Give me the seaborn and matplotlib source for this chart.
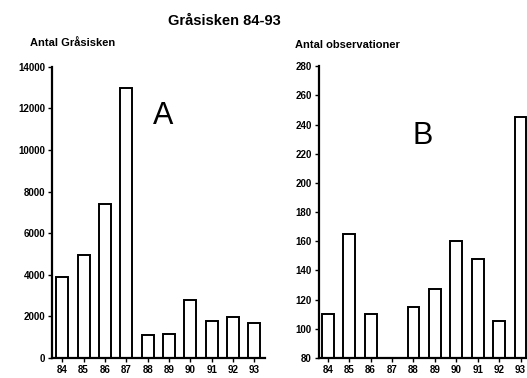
import numpy as np
import pandas as pd
import matplotlib
matplotlib.use("Agg")
import matplotlib.pyplot as plt
import seaborn as sns

# data
years = ["84", "85", "86", "87", "88", "89", "90", "91", "92", "93"]
antal_grasisken = [3900, 4950, 7400, 13000, 1100, 1150, 2800, 1800, 1980, 1670]
antal_obs = [110, 165, 110, np.nan, 115, 127, 160, 148, 105, 245]

sns.set_style("ticks")
plt.rcParams["font.family"] = ["Liberation Sans", "DejaVu Sans"]
plt.rcParams.update({"text.color": "black", "xtick.color": "black",
                     "ytick.color": "black", "axes.edgecolor": "black"})

fig = plt.figure(figsize=(5.27, 3.78), dpi=100)
axA = fig.add_axes([0.099, 0.053, 0.404, 0.770])
axB = fig.add_axes([0.605, 0.053, 0.395, 0.772])

dfA = pd.DataFrame({"year": years, "value": antal_grasisken})
dfB = pd.DataFrame({"year": years, "value": antal_obs})

sns.barplot(data=dfA, x="year", y="value", order=years, color="white",
            edgecolor="black", linewidth=1.4, width=0.56, ax=axA)
sns.barplot(data=dfB, x="year", y="value", order=years, color="white",
            edgecolor="black", linewidth=1.4, width=0.55, ax=axB)

axA.set_ylim(0, 14000)
axA.set_yticks(range(0, 14001, 2000))
axA.set_xlim(-0.47, 9.5)
axB.set_ylim(80, 280)
axB.set_yticks(range(80, 281, 20))
axB.set_xlim(-0.42, 9.3)

for ax in (axA, axB):
    ax.set_xlabel("")
    ax.set_ylabel("")
    sns.despine(ax=ax, bottom=False, left=False)
    ax.spines["left"].set_linewidth(1.6)
    ax.spines["bottom"].set_linewidth(1.6)
    ax.tick_params(axis="both", length=3, width=1, pad=2, labelsize=7,
                   colors="black")
    for lab in ax.get_xticklabels() + ax.get_yticklabels():
        lab.set_fontweight("bold")

fig.text(0.425, 0.945, "Gråsisken 84-93", ha="center", va="center",
         fontsize=10.5, fontweight="bold", color="black")
fig.text(0.057, 0.886, "Antal Gråsisken", ha="left", va="center",
         fontsize=8, fontweight="bold", color="black")
fig.text(0.56, 0.881, "Antal observationer", ha="left", va="center",
         fontsize=8, fontweight="bold", color="black")
axA.text(0.52, 0.83, "A", transform=axA.transAxes, ha="center", va="center",
         fontsize=22, color="black")
axB.text(0.50, 0.76, "B", transform=axB.transAxes, ha="center", va="center",
         fontsize=22, color="black")

fig.savefig("out.png", dpi=100)
